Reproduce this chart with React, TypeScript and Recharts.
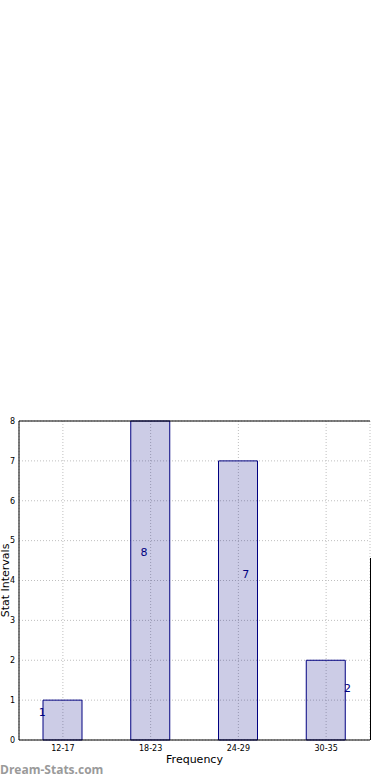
import React from "react";
import {
  ComposedChart,
  Bar,
  XAxis,
  YAxis,
  CartesianGrid,
  ReferenceLine,
  LabelList,
  Label,
} from "recharts";

const categories = ["12-17", "18-23", "24-29", "30-35"];
const frequencies = [1, 8, 7, 2];
// where each value label sits, in value units along the bar, and its shift as a fraction of bar width
const labelLevels = [0.7, 4.69, 4.14, 1.28];
const labelShifts = [-0.52, -0.16, 0.2, 0.56];
const yTicks = [0, 1, 2, 3, 4, 5, 6, 7, 8];

const data = categories.map((c, i) => ({ name: c, value: frequencies[i] }));

const FONT = "'DejaVu Sans', sans-serif";
const NAVY = "#000080";

const ValueLabel = (props: any) => {
  const { x, y, width, height, value, index } = props;
  const bottom = y + height;
  const py = bottom - (labelLevels[index] / value) * height;
  const px = x + width / 2 + labelShifts[index] * width;
  return (
    <text
      x={px}
      y={py}
      textAnchor="middle"
      dominantBaseline="central"
      fill={NAVY}
      fontSize={11}
      fontFamily={FONT}
    >
      {value}
    </text>
  );
};

const YLabel = (props: any) => {
  const vb = props.viewBox || {};
  const cx = 8.5;
  const cy = vb.y + vb.height / 2;
  return (
    <text
      x={cx}
      y={cy}
      transform={`rotate(-90 ${cx} ${cy})`}
      textAnchor="middle"
      fontSize={11}
      fontFamily={FONT}
      fill="#000"
    >
      Stat Intervals
    </text>
  );
};

const XLabel = (props: any) => {
  const vb = props.viewBox || {};
  return (
    <text
      x={vb.x + vb.width / 2}
      y={763}
      textAnchor="middle"
      fontSize={11}
      fontFamily={FONT}
      fill="#000"
    >
      Frequency
    </text>
  );
};

export default function App() {
  return (
    <div
      style={{
        position: "absolute",
        left: 0,
        top: 0,
        width: 390,
        height: 780,
        background: "#fff",
      }}
    >
      <ComposedChart
        width={390}
        height={780}
        data={data}
        margin={{ top: 421, right: 20, bottom: 0, left: 0 }}
      >
        <CartesianGrid
          stroke="#bfbfbf"
          strokeDasharray="1 2"
          vertical={true}
          horizontal={true}
        />
        <XAxis
          dataKey="name"
          height={40}
          tickSize={0}
          tickMargin={5}
          tickLine={false}
          axisLine={{ stroke: "#000" }}
          tick={{ fontSize: 8, fontFamily: FONT, fill: "#000" }}
          interval={0}
        >
          <Label content={<XLabel />} />
        </XAxis>
        <YAxis
          width={19}
          domain={[0, 8]}
          ticks={yTicks}
          tickSize={0}
          tickMargin={4}
          tickLine={false}
          axisLine={{ stroke: "#000" }}
          tick={{ fontSize: 8, fontFamily: FONT, fill: "#000" }}
          interval={0}
        >
          <Label content={<YLabel />} />
        </YAxis>
        <ReferenceLine y={8} stroke="#000" />
        <Bar
          dataKey="value"
          barSize={39}
          fill={NAVY}
          fillOpacity={0.2}
          stroke={NAVY}
          strokeWidth={1}
          isAnimationActive={false}
        >
          <LabelList dataKey="value" content={<ValueLabel />} />
        </Bar>
      </ComposedChart>
      <div
        style={{
          position: "absolute",
          left: 370,
          top: 558,
          width: 1,
          height: 182,
          background: "#000",
        }}
      />
      <div
        style={{
          position: "absolute",
          left: 0,
          top: 762,
          fontFamily: "'Open Sans', sans-serif",
          fontWeight: 700,
          fontSize: 12,
          color: "#9a9a9a",
          lineHeight: "16px",
          whiteSpace: "nowrap",
        }}
      >
        Dream-Stats.com
      </div>
    </div>
  );
}
